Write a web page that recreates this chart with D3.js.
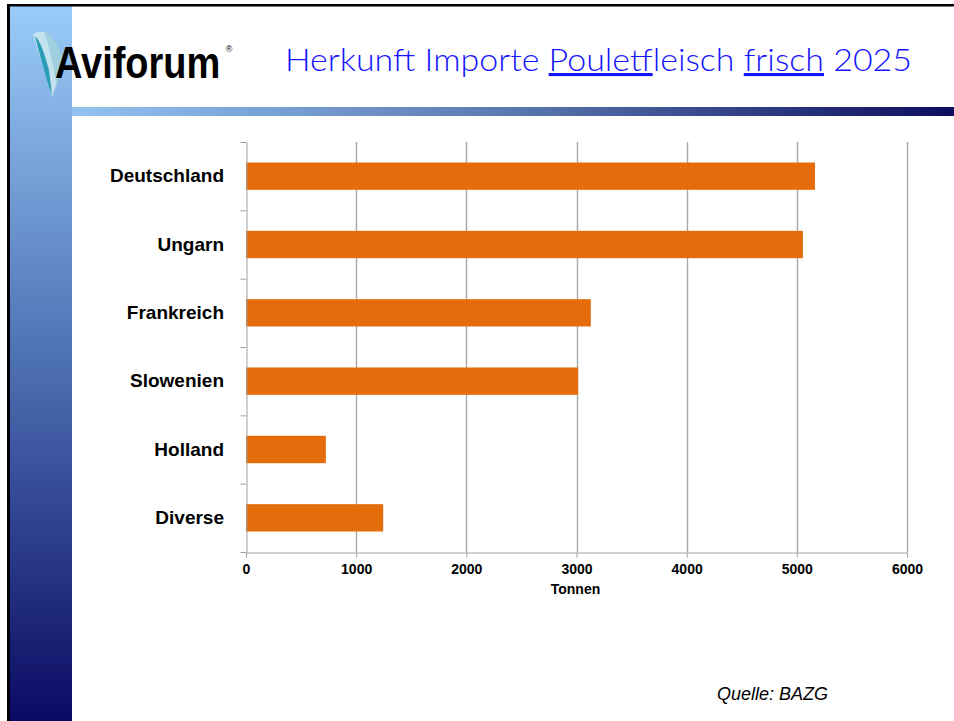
<!DOCTYPE html>
<html>
<head>
<meta charset="utf-8">
<script src="https://cdn.jsdelivr.net/npm/d3@7"></script>
<style>
  body { margin: 0; background: #fff; }
  svg { display: block; }
  .cat text { font-family: "Liberation Sans", Arial, sans-serif; font-weight: bold; font-size: 19px; fill: #000; }
  .xax text { font-family: "Liberation Sans", Arial, sans-serif; font-weight: bold; font-size: 14px; fill: #000; }
</style>
</head>
<body>
<div id="chart"></div>
<script>
// ---------------  DATA  ---------------
const categories = ["Deutschland", "Ungarn", "Frankreich", "Slowenien", "Holland", "Diverse"];
const tonnen = [5165, 5055, 3130, 3015, 725, 1245];
const xTicks = [0, 1000, 2000, 3000, 4000, 5000, 6000];
const titleParts = [
  { t: "Herkunft Importe ", u: false },
  { t: "Poulet", u: true },
  { t: "fleisch ", u: false },
  { t: "frisch", u: true },
  { t: " 2025", u: false }
];

const w = 954, h = 721;

// plot area
const plotLeft = 246, plotRight = 907, plotTop = 142, plotBottom = 552;

const svg = d3.select("#chart").append("svg").attr("width", w).attr("height", h);
const defs = svg.append("defs");

// ------------  SLIDE DECORATION  ------------
const vGrad = defs.append("linearGradient").attr("id", "vgrad")
  .attr("x1", 0).attr("y1", 0).attr("x2", 0).attr("y2", 1);
vGrad.append("stop").attr("offset", "0%").attr("stop-color", "#9accf8");
vGrad.append("stop").attr("offset", "50%").attr("stop-color", "#4d6fb3");
vGrad.append("stop").attr("offset", "100%").attr("stop-color", "#0a0a62");

const hGrad = defs.append("linearGradient").attr("id", "hgrad")
  .attr("x1", 0).attr("y1", 0).attr("x2", 1).attr("y2", 0);
hGrad.append("stop").attr("offset", "0%").attr("stop-color", "#92c3f1");
hGrad.append("stop").attr("offset", "50%").attr("stop-color", "#5a78b0");
hGrad.append("stop").attr("offset", "100%").attr("stop-color", "#0d0d5e");

svg.append("rect").attr("x", 10).attr("y", 6).attr("width", 62).attr("height", h - 6)
  .attr("fill", "url(#vgrad)");
svg.append("rect").attr("x", 72).attr("y", 107).attr("width", w - 72).attr("height", 9)
  .attr("fill", "url(#hgrad)");
// black frame lines
svg.append("rect").attr("x", 7).attr("y", 4).attr("width", w - 7).attr("height", 2.5).attr("fill", "#000");
svg.append("rect").attr("x", 7).attr("y", 4).attr("width", 3).attr("height", h - 4).attr("fill", "#000");

// logo feather
const logo = svg.append("g");
logo.append("path").attr("d", "M33,34 C40,30 46,31 52,38 L58,80 L52,97 Z").attr("fill", "#c9e6ee").attr("opacity", 0.9);
logo.append("path").attr("d", "M35,36 C41,42 45,55 49,70 L52,95 C46,80 40,55 35,36 Z").attr("fill", "#2a9cb3");
logo.append("path").attr("d", "M44,31 C52,34 58,44 62,58 L57,88 C54,70 50,48 44,31 Z").attr("fill", "#9fd0df");
logo.append("text").attr("transform", "translate(55,78) scale(1,1.15)")
  .style("font-family", "'Liberation Sans', Arial, sans-serif").style("font-weight", "bold")
  .style("font-size", "38px").attr("fill", "#000").text("Aviforum");
logo.append("text").attr("x", 229).attr("y", 52).attr("text-anchor", "middle")
  .style("font-family", "'Liberation Sans', Arial, sans-serif").style("font-size", "9px").text("®");

// title
const title = svg.append("text").attr("id", "title").attr("x", 285).attr("y", 71)
  .attr("textLength", 627).attr("lengthAdjust", "spacingAndGlyphs")
  .style("font-family", "Lato, 'Liberation Sans', sans-serif").style("font-weight", "300")
  .style("font-size", "31px").attr("fill", "#1414ff");
title.selectAll("tspan").data(titleParts).enter().append("tspan")
  .style("text-decoration", (d) => (d.u ? "underline" : "none"))
  .text((d) => d.t);

// ------------  SCALES  ------------
const x = d3.scaleLinear().domain([0, 6000]).range([plotLeft, plotRight]);
const y = d3.scaleBand().domain(categories).range([plotTop, plotBottom])
  .paddingInner(0.6).paddingOuter(0.3);
const yEdge = d3.scaleLinear().domain([0, categories.length]).range([plotTop, plotBottom]);

// ------------  GRID  ------------
svg.append("g").selectAll("line").data(xTicks.slice(1)).enter().append("line")
  .attr("x1", (d) => Math.round(x(d)) + 0.5).attr("x2", (d) => Math.round(x(d)) + 0.5)
  .attr("y1", plotTop).attr("y2", plotBottom)
  .attr("stroke", "#a8a8a8").attr("stroke-width", 1.4);

// ------------  BARS  ------------
svg.append("g").selectAll("rect").data(categories).enter().append("rect")
  .attr("x", x(0))
  .attr("y", (d) => y(d))
  .attr("width", (d, i) => x(tonnen[i]) - x(0))
  .attr("height", y.bandwidth())
  .attr("fill", "#e46c0a");

// ------------  AXES  ------------
const yAx = svg.append("g").attr("transform", "translate(" + (plotLeft + 0.5) + ",0)")
  .call(d3.axisLeft(yEdge).tickValues(d3.range(categories.length + 1)).tickSize(6).tickSizeOuter(0).tickFormat(""));
yAx.selectAll("line, path").attr("stroke", "#a0a0a0");

const catAx = svg.append("g").attr("class", "cat").attr("transform", "translate(" + (plotLeft - 22) + ",0)")
  .call(d3.axisLeft(y).tickSize(0).tickPadding(0));
catAx.select(".domain").remove();

const xAx = svg.append("g").attr("class", "xax").attr("transform", "translate(0," + (plotBottom + 0.5) + ")")
  .call(d3.axisBottom(x).tickValues(xTicks).tickSize(5).tickSizeOuter(0).tickPadding(7).tickFormat(d3.format("d")));
xAx.selectAll("line, path").attr("stroke", "#a0a0a0");

svg.append("text").attr("x", (plotLeft + plotRight) / 2 - 1).attr("y", 594).attr("text-anchor", "middle")
  .style("font-family", "'Liberation Sans', Arial, sans-serif").style("font-weight", "bold")
  .style("font-size", "14px").text("Tonnen");

// source
svg.append("text").attr("x", 717).attr("y", 700)
  .style("font-family", "'Liberation Sans', Arial, sans-serif").style("font-style", "italic")
  .style("font-size", "18px").text("Quelle: BAZG");
</script>
</body>
</html>
